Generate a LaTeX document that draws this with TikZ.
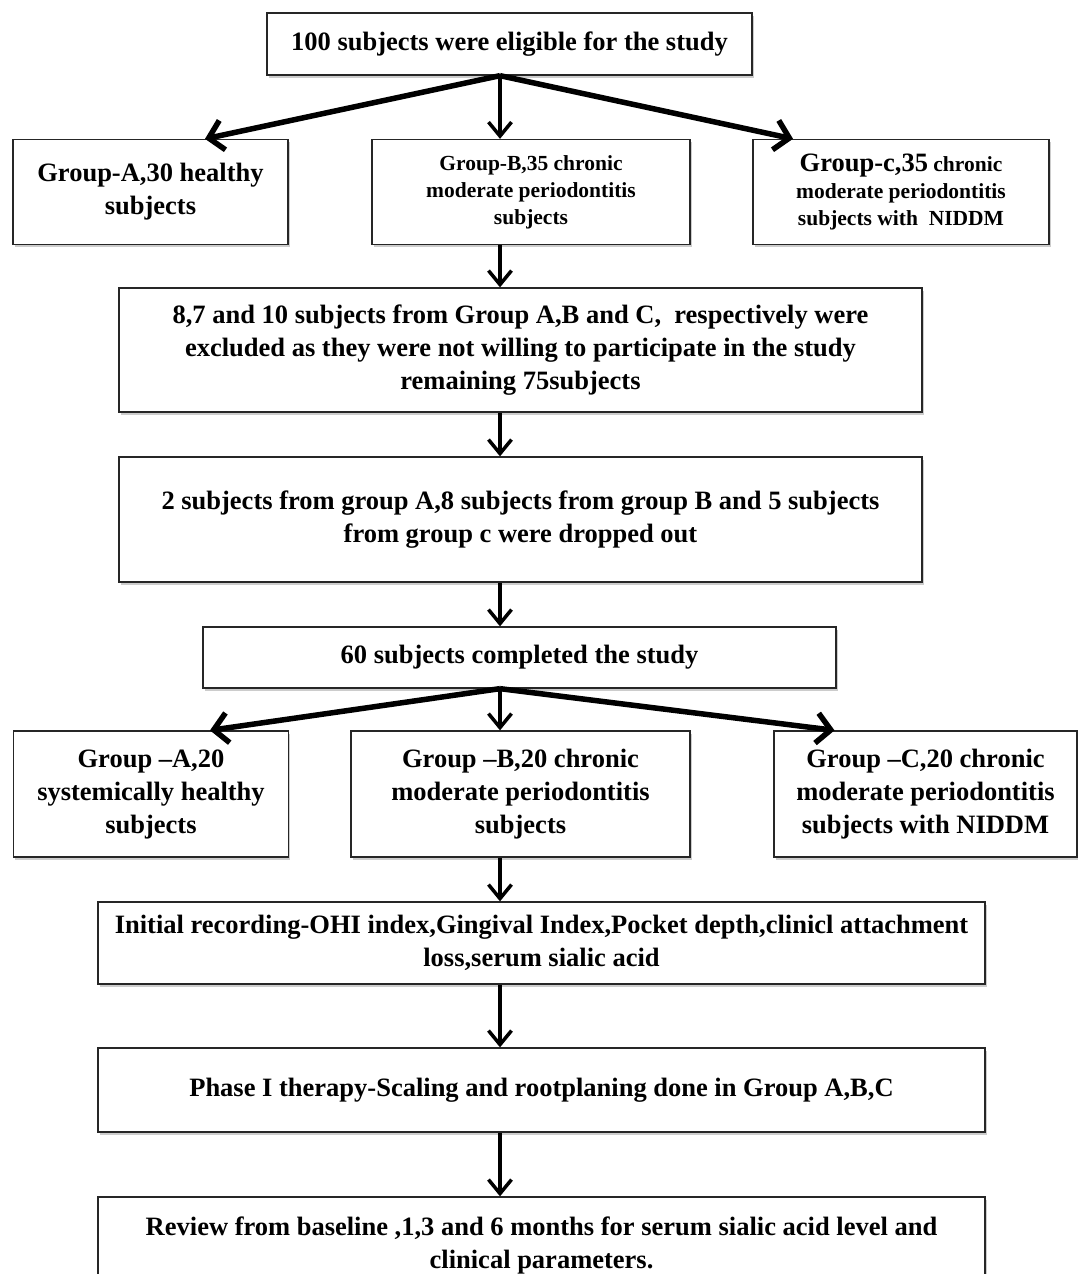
\documentclass[tikz,border=0pt]{standalone}
\usepackage{fontspec}
\setmainfont{Liberation Serif}
\usetikzlibrary{shapes,arrows.meta,shadows}

\newcommand\lgfont{\fontsize{26.5}{33}\selectfont\bfseries}
\newcommand\smfont{\fontsize{21.5}{27}\selectfont\bfseries}

\begin{document}
\begin{tikzpicture}[x=1pt,y=-1pt,
    box/.style={draw=black!85, line width=1.3pt, fill=white, align=center,
      inner sep=0pt, font=\lgfont,
      drop shadow={shadow xshift=1.5pt, shadow yshift=-2.5pt, fill=black!40, opacity=.5}},
    fan/.style={line width=5.5pt, -{Straight Barb[length=14pt,width=30pt]}},
    down/.style={line width=3.5pt, -{Straight Barb[length=14pt,width=23pt]}},
  ]
  \useasboundingbox (0,0) rectangle (1078,1274);
  \coordinate (axis) at (500,0);

  \node[box, minimum width=485, minimum height=62] (elig) at (509.5,44)
    {100 subjects were eligible for the study};

  \node[box, minimum width=275, minimum height=105] (ga) at (150.5,192)
    {Group-A,30 healthy\\ subjects};
  \node[box, minimum width=318, minimum height=105, font=\smfont] (gb) at (531,192)
    {Group-B,35 chronic\\ moderate periodontitis\\ subjects};
  \node[box, minimum width=296, minimum height=105, font=\smfont] (gc) at (901,192)
    {{\lgfont Group-c,35} chronic\\ moderate periodontitis\\ subjects with~ NIDDM};

  \node[box, minimum width=803, minimum height=124] (excl) at (520.5,350)
    {8,7 and 10 subjects from Group A,B and C,~ respectively were\\
     excluded as they were not willing to participate in the study\\
     remaining 75subjects};
  \node[box, minimum width=803, minimum height=125] (drop) at (520.5,519.5)
    {2 subjects from group A,8 subjects from group B and 5 subjects\\
     from group c were dropped out};
  \node[box, minimum width=633, minimum height=61] (done) at (519.5,657.5)
    {60 subjects completed the study};

  \node[box, minimum width=275, minimum height=126] (ha) at (151,794)
    {Group –A,20\\ systemically healthy\\ subjects};
  \node[box, minimum width=339, minimum height=126] (hb) at (520.5,794)
    {Group –B,20 chronic\\ moderate periodontitis\\ subjects};
  \node[box, minimum width=303, minimum height=126] (hc) at (925.5,794)
    {Group –C,20 chronic\\ moderate periodontitis\\ subjects with NIDDM};

  \node[box, minimum width=887, minimum height=82] (init) at (541.5,943)
    {Initial recording-OHI index,Gingival Index,Pocket depth,clinicl attachment\\
     loss,serum sialic acid};
  \node[box, minimum width=887, minimum height=84] (phase) at (541.5,1090)
    {Phase I therapy-Scaling and rootplaning done in Group A,B,C};
  \node[box, minimum width=887, minimum height=92, text depth=0pt] (review) at (541.5,1243)
    {Review from baseline ,1,3 and 6 months for serum sialic acid level and\\
     clinical parameters.};

  % first split
  \draw[fan] (elig.south -| axis) -- ([xshift=54.5]ga.north);
  \draw[down] (elig.south -| axis) -- (gb.north -| axis);
  \draw[fan] (elig.south -| axis) -- ([xshift=-108]gc.north);

  \draw[down] (gb.south -| axis) -- (excl.north -| axis);
  \draw[down] (excl.south -| axis) -- (drop.north -| axis);
  \draw[down] (drop.south -| axis) -- (done.north -| axis);

  % second split
  \draw[fan] (done.south -| axis) -- ([xshift=59]ha.north);
  \draw[down] (done.south -| axis) -- (hb.north -| axis);
  \draw[fan] (done.south -| axis) -- ([xshift=-91]hc.north);

  \draw[down] (hb.south -| axis) -- (init.north -| axis);
  \draw[down] (init.south -| axis) -- (phase.north -| axis);
  \draw[down] (phase.south -| axis) -- (review.north -| axis);
\end{tikzpicture}
\end{document}
